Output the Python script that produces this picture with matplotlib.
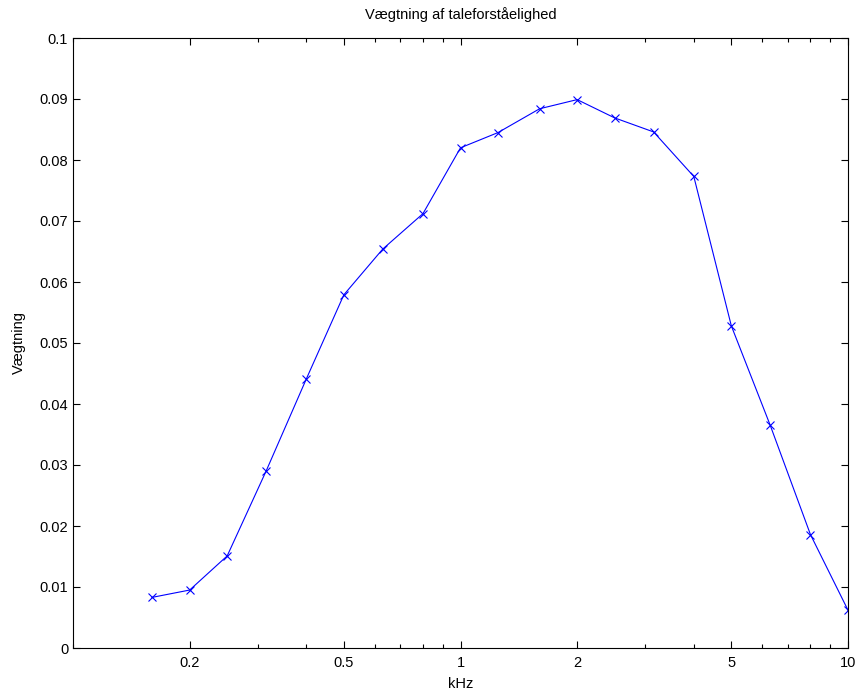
import matplotlib
matplotlib.use("Agg")
import matplotlib.pyplot as plt
import numpy as np
from matplotlib.ticker import FixedLocator, FixedFormatter, LogLocator, NullFormatter

plt.rcParams["font.family"] = ["Liberation Sans", "DejaVu Sans"]

# Tertsbånd (kHz) og vægtning
freq_khz = [0.16, 0.2, 0.25, 0.315, 0.4, 0.5, 0.63, 0.8, 1, 1.25, 1.6,
            2, 2.5, 3.15, 4, 5, 6.3, 8, 10]
weights = [0.0083, 0.0095, 0.0151, 0.0290, 0.0441, 0.0579, 0.0654, 0.0712,
           0.0820, 0.0845, 0.0884, 0.0899, 0.0869, 0.0846, 0.0773, 0.0528,
           0.0365, 0.0186, 0.0062]
xtick_vals = [0.2, 0.5, 1, 2, 5, 10]
xtick_labels = ["0.2", "0.5", "1", "2", "5", "10"]
ytick_vals = np.round(np.arange(0, 0.101, 0.01), 2)
ytick_labels = ["0"] + ["%g" % v for v in ytick_vals[1:]]

fig = plt.figure(figsize=(8.6, 6.93), dpi=100)
ax = fig.add_axes([73 / 860, 1 - 648 / 693, 775 / 860, 610 / 693])

ax.semilogx(freq_khz, weights, color="blue", marker="x", markersize=6,
            linewidth=0.8, markeredgewidth=0.8)

ax.set_xlim(0.1, 10)
ax.set_ylim(0, 0.1)
ax.xaxis.set_major_locator(FixedLocator(xtick_vals))
ax.xaxis.set_major_formatter(FixedFormatter(xtick_labels))
ax.xaxis.set_minor_locator(LogLocator(base=10, subs=np.arange(1, 10)))
ax.xaxis.set_minor_formatter(NullFormatter())
ax.set_yticks(ytick_vals)
ax.set_yticklabels(ytick_labels)

ax.tick_params(which="both", direction="in", top=True, right=True,
               labelsize=10.5, width=0.8)
ax.tick_params(which="major", length=5)
ax.tick_params(which="minor", length=3)
ax.tick_params(axis="x", pad=6)
for s in ax.spines.values():
    s.set_linewidth(0.8)

ax.set_xlabel("kHz", fontsize=10.5, labelpad=5)
ax.set_ylabel("Vægtning", fontsize=10.5, labelpad=10)
ax.set_title("Vægtning af taleforståelighed", fontsize=10.5, pad=14)

fig.savefig("out.png", dpi=100)
